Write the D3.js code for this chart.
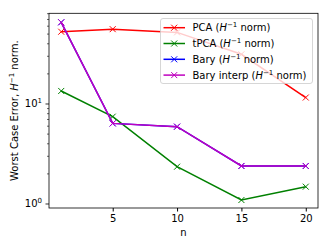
<!DOCTYPE html>
<html>
<head>
<meta charset="utf-8">
<script src="https://cdn.jsdelivr.net/npm/d3@7"></script>
<style>
  body { margin: 0; background: #fff; }
  svg text { font-family: "DejaVu Sans", sans-serif; fill: #000; }
</style>
</head>
<body>
<div id="chart"></div>
<script>
// data
var nValues = [1, 5, 10, 15, 20];
var pcaErr = [52.8, 56, 52, 31.4, 11.6];
var tpcaErr = [13.5, 7.47, 2.36, 1.096, 1.49];
var baryErr = [65.6, 6.4, 5.93, 2.4, 2.4];
var baryInterpErr = [65.6, 6.4, 5.93, 2.4, 2.4];
var xTicks = [5, 10, 15, 20];
var seriesNames = ["PCA", "tPCA", "Bary", "Bary interp"];
var seriesColors = ["#ff0000", "#008000", "#0000ff", "#bf00bf"];

var W = 332, H = 249;
var margin = {left: 49, top: 13.3, right: 14, bottom: 41};

var svg = d3.select("#chart").append("svg")
    .attr("width", W).attr("height", H);

var x = d3.scaleLinear().domain([0.05, 20.95]).range([margin.left, W - margin.right]);
var y = d3.scaleLog().domain([0.912, 80.7]).range([H - margin.bottom, margin.top]);

var plot = svg.append("g");

var series = [pcaErr, tpcaErr, baryErr, baryInterpErr];

var line = d3.line()
    .x(function (d, i) { return x(nValues[i]); })
    .y(function (d) { return y(d); });

function cross(g, cx, cy, color) {
    var s = 3;
    g.append("path")
        .attr("d", "M" + (cx - s) + "," + (cy - s) + "L" + (cx + s) + "," + (cy + s) +
            "M" + (cx - s) + "," + (cy + s) + "L" + (cx + s) + "," + (cy - s))
        .attr("stroke", color).attr("stroke-width", 1).attr("fill", "none");
}

series.forEach(function (vals, k) {
    plot.append("path")
        .attr("d", line(vals))
        .attr("fill", "none")
        .attr("stroke", seriesColors[k])
        .attr("stroke-width", 1.5);
    vals.forEach(function (v, i) {
        cross(plot, x(nValues[i]), y(v), seriesColors[k]);
    });
});

// axes
var xAxis = d3.axisBottom(x).tickValues(xTicks).tickSize(3.5).tickPadding(3.5);
var gx = svg.append("g")
    .attr("transform", "translate(0," + (H - margin.bottom) + ")")
    .call(xAxis);
gx.select(".domain").remove();
gx.selectAll("text").attr("font-size", 10);

var majors = [1, 10];
var minors = [2, 3, 4, 5, 6, 7, 8, 9, 20, 30, 40, 50, 60, 70, 80];
var gy = svg.append("g").attr("transform", "translate(" + margin.left + ",0)");
gy.selectAll(".minor").data(minors).enter().append("line")
    .attr("x1", -2).attr("x2", 0)
    .attr("y1", function (d) { return y(d); })
    .attr("y2", function (d) { return y(d); })
    .attr("stroke", "#000").attr("stroke-width", 0.6);
gy.selectAll(".major").data(majors).enter().append("line")
    .attr("x1", -3.5).attr("x2", 0)
    .attr("y1", function (d) { return y(d); })
    .attr("y2", function (d) { return y(d); })
    .attr("stroke", "#000").attr("stroke-width", 0.8);
var lab = gy.selectAll(".lab").data(majors).enter().append("text")
    .attr("x", -7).attr("y", function (d) { return y(d) + 3.5; })
    .attr("text-anchor", "end").attr("font-size", 10);
lab.append("tspan").text("10");
lab.append("tspan").attr("dy", -4).attr("font-size", 7)
    .text(function (d) { return Math.round(Math.log10(d)); });

// frame
svg.append("rect")
    .attr("x", margin.left).attr("y", margin.top)
    .attr("width", W - margin.right - margin.left)
    .attr("height", H - margin.bottom - margin.top)
    .attr("fill", "none").attr("stroke", "#000").attr("stroke-width", 0.8);

// axis labels
svg.append("text")
    .attr("x", x(10.5)).attr("y", 236)
    .attr("text-anchor", "middle").attr("font-size", 10).text("n");

var yl = svg.append("text")
    .attr("transform", "translate(18," + ((margin.top + H - margin.bottom) / 2) + ") rotate(-90)")
    .attr("text-anchor", "middle").attr("font-size", 10);
yl.append("tspan").text("Worst Case Error, ");
yl.append("tspan").attr("font-style", "italic").text("H");
yl.append("tspan").attr("dy", -4).attr("font-size", 7).text("\u22121");
yl.append("tspan").attr("dy", 4).text(" norm.");

// legend
var leg = svg.append("g");
leg.append("rect")
    .attr("x", 160.5).attr("y", 18.5).attr("width", 152).attr("height", 65)
    .attr("rx", 2.5)
    .attr("fill", "#fff").attr("fill-opacity", 0.8)
    .attr("stroke", "#cccccc").attr("stroke-width", 0.8);
seriesNames.forEach(function (name, k) {
    var ly = 27.7 + k * 15.8;
    leg.append("line")
        .attr("x1", 163.5).attr("x2", 185).attr("y1", ly).attr("y2", ly)
        .attr("stroke", seriesColors[k]).attr("stroke-width", 1.5);
    cross(leg, 174.2, ly, seriesColors[k]);
    var t = leg.append("text").attr("x", 192.5).attr("y", ly + 3.5).attr("font-size", 10);
    t.append("tspan").text(name + " (");
    t.append("tspan").attr("font-style", "italic").text("H");
    t.append("tspan").attr("dy", -4).attr("font-size", 7).text("\u22121");
    t.append("tspan").attr("dy", 4).text(" norm)");
});
</script>
</body>
</html>
